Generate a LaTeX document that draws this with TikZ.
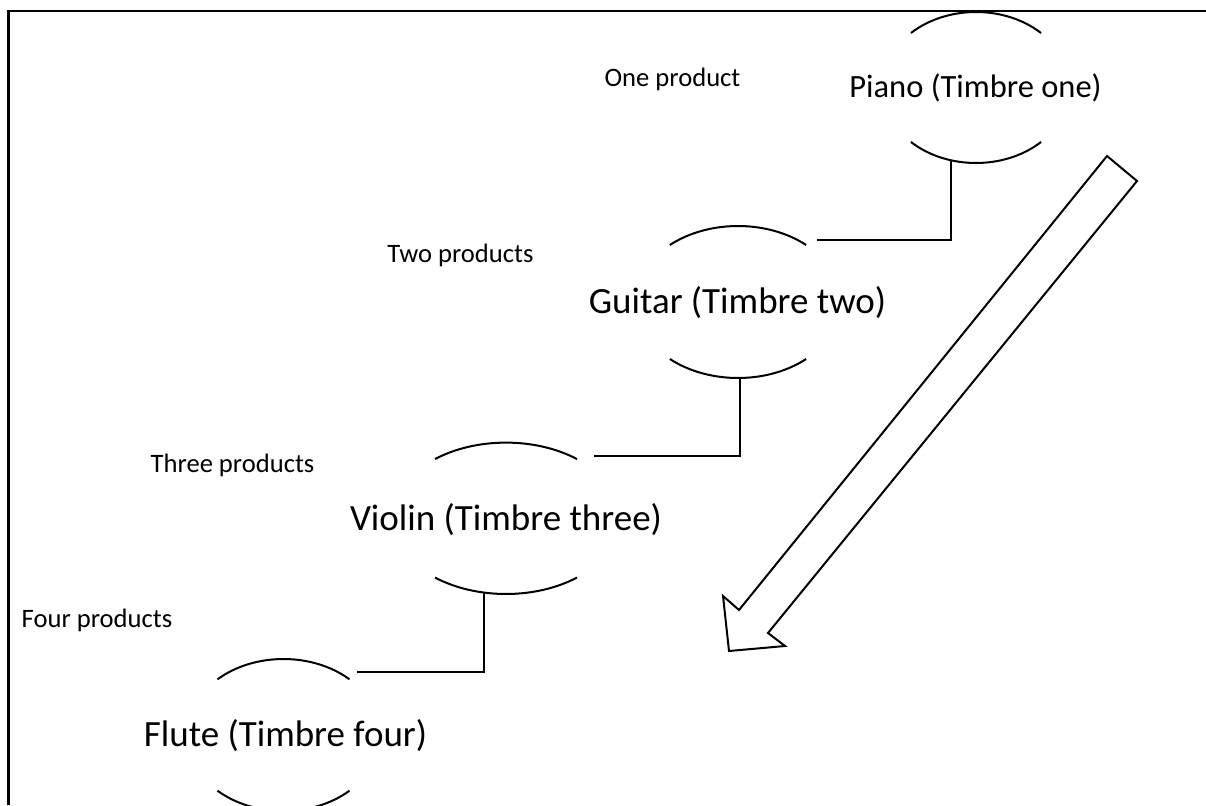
\documentclass[tikz,border=0pt]{standalone}
\usepackage{fontspec}
\setmainfont{Carlito}
\newcommand\bowlarcs[4]{% #1 centre, #2 x radius, #3 y radius, #4 half-angle of the open sides
  \draw[outline] ([shift={(180+#4:#2 and #3)}]#1) arc[start angle=180+#4, end angle=360-#4, x radius=#2, y radius=#3];
  \draw[outline] ([shift={(#4:#2 and #3)}]#1) arc[start angle=#4, end angle=180-#4, x radius=#2, y radius=#3];
}
\tikzset{
  outline/.style={draw=black, line width=2pt},
  tie/.style={draw=black, line width=2pt},
  instrument/.style={inner sep=0pt, anchor=base, font=\fontsize{37}{44}\selectfont},
  tierlabel/.style={inner sep=0pt, anchor=base, font=\fontsize{26.6}{32}\selectfont},
}
\begin{document}
\begin{tikzpicture}[x=1pt, y=-1pt]
  \useasboundingbox (0,0) rectangle (1206,805);
  \clip (0,0) rectangle (1206,805);
  \fill[white] (0,0) rectangle (1206,805);

  % page frame (only the top and left sides fall inside the view)
  \draw[line width=2.5pt] (8.5,805) -- (8.5,11) -- (1206,11);

  % tier labels
  \node[tierlabel] (one)   at (672.5,86.5) {One product};
  \node[tierlabel] (two)   at (460.5,262)  {Two products};
  \node[tierlabel] (three) at (232.5,472)  {Three products};
  \node[tierlabel] (four)  at (97,627)     {Four products};

  % instruments
  \node[instrument, font=\fontsize{32.5}{39}\selectfont] (piano) at (975.5,98) {Piano (Timbre one)};
  \node[instrument] (guitar) at (737.5,313) {Guitar (Timbre two)};
  \node[instrument] (violin) at (506,530)   {Violin (Timbre three)};
  \node[instrument] (flute)  at (285.5,746) {Flute (Timbre four)};

  % ellipse centres and the arcs above and below each name
  \coordinate (pianoO)  at (976,87.5);
  \coordinate (guitarO) at (738,302);
  \coordinate (violinO) at (506,518.3);
  \coordinate (fluteO)  at (283.5,735);
  \bowlarcs{pianoO}{94}{75.5}{46.2}
  \bowlarcs{guitarO}{103}{76}{48.6}
  \bowlarcs{violinO}{114}{75.7}{51.5}
  \bowlarcs{fluteO}{97}{76}{47.1}

  % elbow ties from each instrument down to the next one
  \coordinate (pianoFoot)  at (951,160.5);
  \coordinate (guitarTie)  at (817,240);
  \coordinate (guitarFoot) at (740,378);
  \coordinate (violinTie)  at (594,456);
  \coordinate (violinFoot) at (483.5,592.5);
  \coordinate (fluteTie)   at (357,671.5);
  \draw[tie] (pianoFoot) |- (guitarTie);
  \draw[tie] (guitarFoot) |- (violinTie);
  \draw[tie] (violinFoot) |- (fluteTie);

  % hollow block arrow pointing down to the left
  \draw[outline, line join=miter]
    (1107,156) -- (1137,181) -- (768,633) -- (785,646) -- (729,651)
    -- (723,596) -- (739,610) -- cycle;
\end{tikzpicture}
\end{document}
